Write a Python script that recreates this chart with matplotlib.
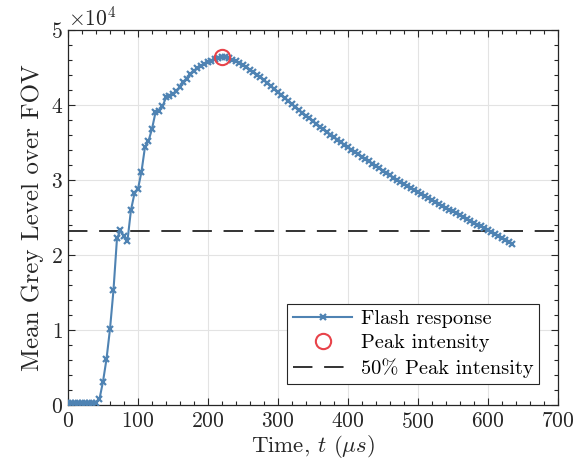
import matplotlib
matplotlib.use("Agg")
import matplotlib.pyplot as plt
import numpy as np
from matplotlib.ticker import MultipleLocator, ScalarFormatter

plt.rcParams['font.family'] = ['cmr10', 'DejaVu Serif']
plt.rcParams['mathtext.fontset'] = 'cm'
plt.rcParams['axes.unicode_minus'] = False
plt.rcParams['axes.formatter.use_mathtext'] = True

# sample interval (us) and mean grey level per frame
dt = 5.0
grey = np.array([
    270, 270, 270, 270, 270, 270, 270, 270, 270, 800,
    3100, 6100, 10100, 15300, 22200, 23300, 22500, 21900, 26000, 28200,
    28800, 31100, 34400, 35200, 36800, 39000, 39200, 39800, 41000, 41200,
    41400, 41800, 42400, 43000, 43500, 44100, 44500, 44900, 45200, 45500,
    45700, 45900, 46100, 46250, 46400, 46350, 46200, 46000, 45800, 45550,
    45300, 45000, 44700, 44400, 44050, 43700, 43300, 42900, 42500, 42100,
    41700, 41300, 40900, 40500, 40100, 39700, 39300, 38950, 38570, 38200,
    37830, 37460, 37100, 36750, 36400, 36050, 35710, 35370, 35030, 34700,
    34370, 34050, 33740, 33430, 33120, 32810, 32500, 32190, 31880, 31570,
    31260, 30950, 30640, 30330, 30030, 29740, 29460, 29180, 28900, 28630,
    28360, 28090, 27830, 27570, 27310, 27050, 26800, 26550, 26300, 26050,
    25800, 25550, 25300, 25050, 24800, 24550, 24300, 24060, 23820, 23580,
    23340, 23080, 22820, 22560, 22300, 22040, 21780, 21520,
])
time_us = np.arange(len(grey)) * dt

i_peak = int(np.argmax(grey))
peak_t = time_us[i_peak]
peak_val = grey[i_peak]

fig = plt.figure(figsize=(5.78, 4.70), dpi=100)
ax = fig.add_axes([0.1176, 0.1383, 0.8478, 0.7979])

ax.plot(time_us, grey, '-x', color='#4f83b3', lw=1.5, ms=5, mew=1.6,
        label='Flash response', zorder=3)
ax.plot(peak_t, peak_val, 'o', ms=11, mfc='none', mec='#e8434a', mew=1.5,
        label='Peak intensity', zorder=4)
ax.axhline(peak_val / 2, color='#333333', lw=1.4, dashes=(10, 6),
           label='50% Peak intensity', zorder=2)

ax.set_xlim(0, 700)
ax.set_ylim(0, 50000)
ax.xaxis.set_major_locator(MultipleLocator(100))
ax.xaxis.set_minor_locator(MultipleLocator(20))
ax.yaxis.set_major_locator(MultipleLocator(10000))
ax.yaxis.set_minor_locator(MultipleLocator(2000))

fmt = ScalarFormatter(useMathText=True)
fmt.set_powerlimits((0, 0))
ax.yaxis.set_major_formatter(fmt)
ax.yaxis.get_offset_text().set_fontsize(15.5)

ax.tick_params(axis='both', which='both', direction='in', top=True, right=True,
               colors='#262626', labelsize=15.5, width=0.8)
ax.tick_params(which='major', length=5)
ax.tick_params(which='minor', length=3)
ax.tick_params(axis='x', pad=5)
for s in ax.spines.values():
    s.set_color('#262626')
    s.set_linewidth(0.9)

ax.grid(True, which='major', color='#e3e3e3', lw=0.8, zorder=0)
ax.set_axisbelow(True)

ax.set_xlabel(r'Time, $t$ ($\mu s$)', fontsize=16.5, color='#262626', labelpad=1)
ax.set_ylabel('Mean Grey Level over FOV', fontsize=18, color='#262626', labelpad=5)

leg = ax.legend(loc='lower right', bbox_to_anchor=(0.962, 0.055), fontsize=14.7,
                fancybox=False, framealpha=1, edgecolor='#262626',
                handlelength=2.9, numpoints=1, borderpad=0.3, labelspacing=0.3,
                handletextpad=0.4, borderaxespad=0)
leg.get_frame().set_linewidth(0.8)

fig.savefig('out.png', dpi=100)
